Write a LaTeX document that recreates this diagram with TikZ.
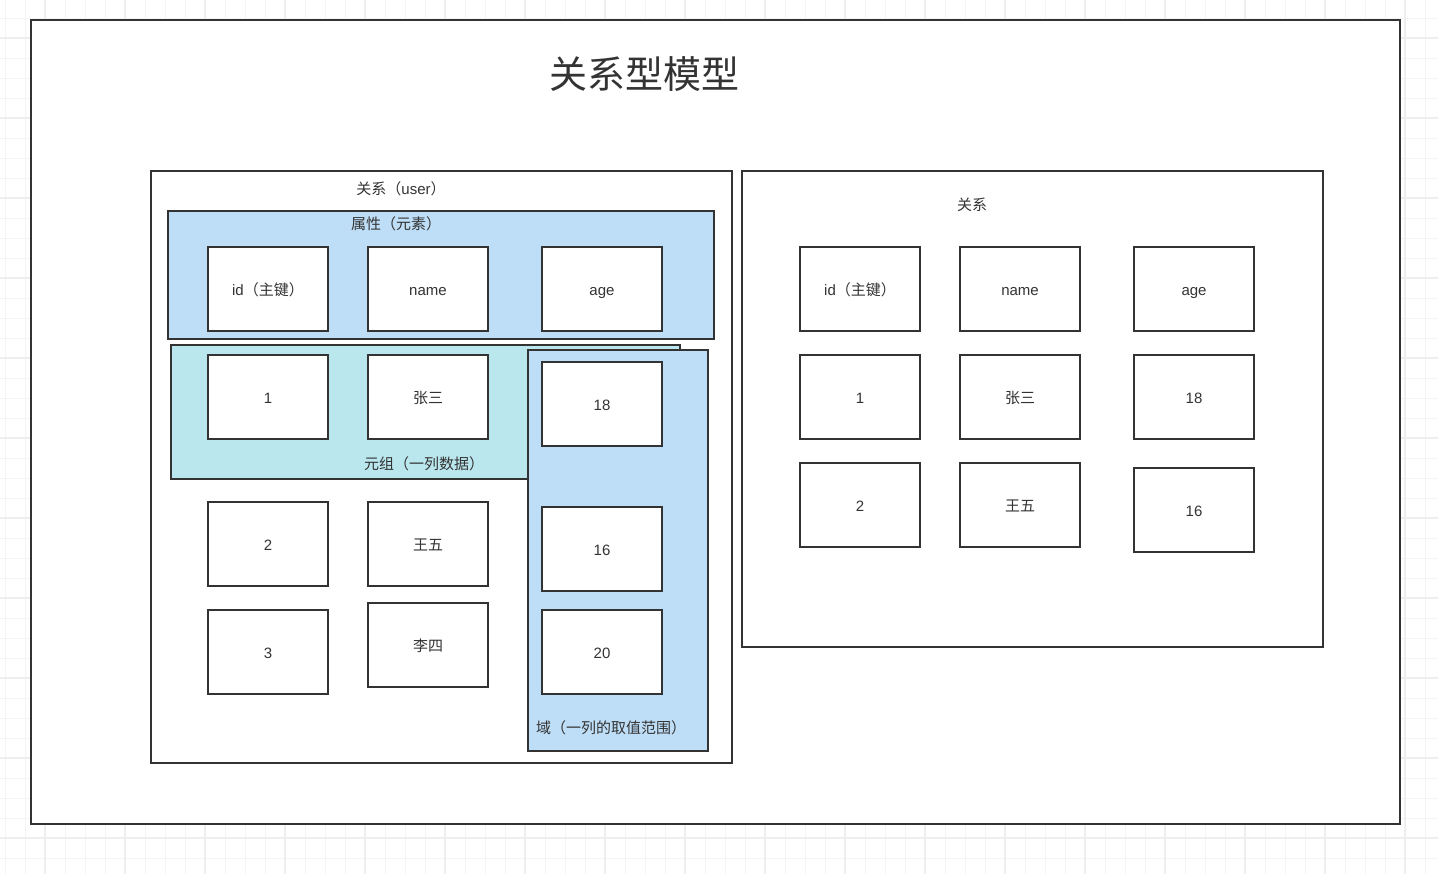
\documentclass[tikz,border=0pt]{standalone}
\usepackage{fontspec}
\setmainfont{Liberation Sans}
\newfontfamily\cjk{Noto Sans CJK SC}
\definecolor{ink}{HTML}{333333}
\definecolor{attrblue}{HTML}{BEDDF6}
\definecolor{tuplecyan}{HTML}{BAE7EE}
\definecolor{gridminor}{HTML}{F4F4F4}
\definecolor{gridmajor}{HTML}{EEEEEE}
\tikzset{
  frame/.style={draw=ink, line width=1.1pt, fill=white, inner sep=0pt},
  cell/.style={draw=ink, line width=1.1pt, fill=white, inner sep=0pt,
    minimum width=60pt, minimum height=42pt, font=\fontsize{7.5}{9}\selectfont, text=ink,
    text height=7pt, text depth=0.4pt},
  group/.style={draw=ink, line width=1.1pt, inner sep=0pt},
  lbl/.style={inner sep=0pt, font=\fontsize{7.5}{9}\selectfont, text=ink,
    text height=7pt, text depth=0.4pt},
}
\begin{document}
\begin{tikzpicture}[x=0.5pt, y=-0.5pt]
\useasboundingbox (0,0) rectangle (1438,874);
% background grid
\foreach \i in {5,25,...,1438} \draw[gridminor, line width=0.5pt] (\i,0) -- (\i,874);
\foreach \j in {18,38,...,874} \draw[gridminor, line width=0.5pt] (0,\j) -- (1438,\j);
\foreach \i in {45,125,...,1438} \draw[gridmajor, line width=0.6pt] (\i,0) -- (\i,874);
\foreach \j in {38,118,...,874} \draw[gridmajor, line width=0.6pt] (0,\j) -- (1438,\j);
% outer frame
\node[frame, minimum width=684.5pt, minimum height=402pt] (outer) at (715.5,422) {};
\node[inner sep=0pt, text=ink, font=\cjk\fontsize{19}{21}\selectfont] (title) at (644,74) {关系型模型};
% left relation
\node[frame, minimum width=290.5pt, minimum height=296pt] (relL) at (441.5,467) {};
\node[lbl] (relLlbl) at (401,188) {{\cjk 关系（}user{\cjk ）}};
\node[group, fill=attrblue, minimum width=273pt, minimum height=64pt] (attr) at (441,275) {};
\node[lbl] (attrlbl) at (396,223) {\cjk 属性（元素）};
\node[group, fill=tuplecyan, minimum width=254.5pt, minimum height=67pt] (tuple) at (425.5,412) {};
\node[lbl] (tuplelbl) at (424,463) {\cjk 元组（一列数据）};
\node[group, fill=attrblue, minimum width=90pt, minimum height=200.5pt] (domain) at (618,550.5) {};
\node[lbl] (domainlbl) at (611,727) {\cjk 域（一列的取值范围）};
\node[cell] (id) at (268,289) {id{\cjk （主键）}};
\node[cell] (name) at (428,289) {name};
\node[cell] (age) at (602,289) {age};
\node[cell] (t1) at (268,397) {1};
\node[cell] (zs) at (428,397) {\cjk 张三};
\node[cell] (d18) at (602,404) {18};
\node[cell] (d16) at (602,549) {16};
\node[cell] (d20) at (602,652) {20};
\node[cell] (t2) at (268,544) {2};
\node[cell] (ww) at (428,544) {\cjk 王五};
\node[cell] (t3) at (268,652) {3};
\node[cell] (ls) at (428,645) {\cjk 李四};
% right relation
\node[frame, minimum width=290.5pt, minimum height=238pt] (relR) at (1032.5,409) {};
\node[lbl] (relRlbl) at (972,204) {\cjk 关系};
\node[cell] (rid) at (860,289) {id{\cjk （主键）}};
\node[cell] (rname) at (1020,289) {name};
\node[cell] (rage) at (1194,289) {age};
\node[cell] (r1) at (860,397) {1};
\node[cell] (rzs) at (1020,397) {\cjk 张三};
\node[cell] (r18) at (1194,397) {18};
\node[cell] (r2) at (860,505) {2};
\node[cell] (rww) at (1020,505) {\cjk 王五};
\node[cell] (r16) at (1194,510) {16};
\end{tikzpicture}
\end{document}
